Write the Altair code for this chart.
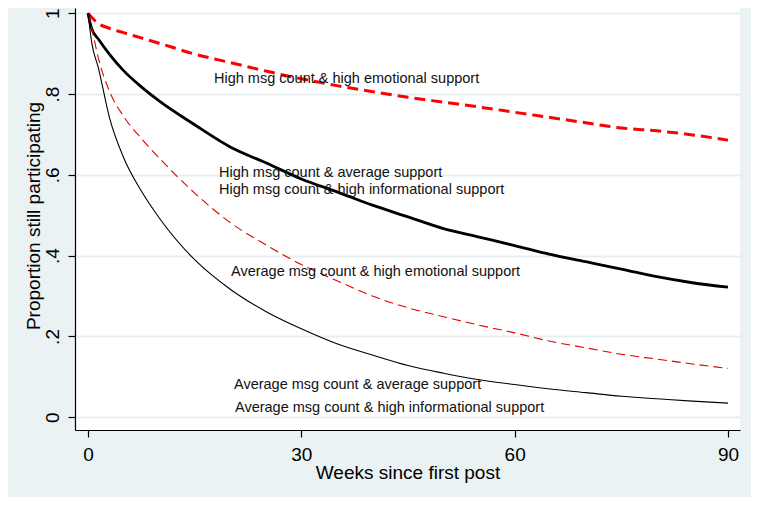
import altair as alt
import pandas as pd

# ---------------- data ----------------
WEEKS = [0, 0.5, 1.5, 3, 5, 7.5, 10, 15, 20, 25, 30, 35, 40, 45, 50, 55, 60, 65, 70, 75, 80, 85, 90]

SERIES = [
    "High msg count & high emotional support",
    "High msg count & average support",
    "Average msg count & high emotional support",
    "Average msg count & average support",
]

HIGH_MSG_HIGH_EMO = [1.0, 0.99, 0.974, 0.963, 0.952, 0.939, 0.926, 0.899, 0.878, 0.857, 0.838,
                     0.821, 0.806, 0.792, 0.780, 0.768, 0.755, 0.742, 0.729, 0.716, 0.709, 0.699, 0.686]
HIGH_MSG_AVG = [1.0, 0.963, 0.935, 0.899, 0.858, 0.818, 0.783, 0.724, 0.669, 0.630, 0.590,
                0.558, 0.525, 0.496, 0.467, 0.446, 0.425, 0.403, 0.385, 0.367, 0.348, 0.333, 0.322]
AVG_MSG_HIGH_EMO = [1.0, 0.965, 0.886, 0.808, 0.745, 0.690, 0.642, 0.555, 0.482, 0.427, 0.378,
                    0.338, 0.300, 0.271, 0.249, 0.228, 0.209, 0.188, 0.172, 0.156, 0.144, 0.132, 0.121]
AVG_MSG_AVG = [1.0, 0.93, 0.862, 0.743, 0.643, 0.560, 0.494, 0.390, 0.317, 0.262, 0.219,
               0.182, 0.154, 0.128, 0.109, 0.093, 0.081, 0.070, 0.061, 0.052, 0.046, 0.040, 0.035]

VALUES = [HIGH_MSG_HIGH_EMO, HIGH_MSG_AVG, AVG_MSG_HIGH_EMO, AVG_MSG_AVG]

LABEL_TEXT = [
    "High msg count & high emotional support",
    "High msg count & average support",
    "High msg count & high informational support",
    "Average msg count & high emotional support",
    "Average msg count & average support",
    "Average msg count & high informational support",
]
LABEL_WEEK = [17.72, 18.42, 18.42, 20.11, 20.53, 20.67]
LABEL_VALUE = [0.828, 0.594, 0.552, 0.3505, 0.0693, 0.0131]

X_TICKS = [0, 30, 60, 90]
Y_TICKS = [0, 0.2, 0.4, 0.6, 0.8, 1.0]
Y_TICK_LABELS = ["0", ".2", ".4", ".6", ".8", "1"]

# ---------------- styling ----------------
FONT = "Liberation Sans"
STYLES = {
    SERIES[0]: dict(color="#ff0000", strokeWidth=3, strokeDash=[11, 6]),
    SERIES[1]: dict(color="#000000", strokeWidth=2.8),
    SERIES[2]: dict(color="#e00000", strokeWidth=1.1, strokeDash=[9, 5]),
    SERIES[3]: dict(color="#000000", strokeWidth=1.1),
}

rows = []
for name, vals in zip(SERIES, VALUES):
    for w, v in zip(WEEKS, vals):
        rows.append({"series": name, "week": w, "value": v})
df = pd.DataFrame(rows)

labels_df = pd.DataFrame({"text": LABEL_TEXT, "week": LABEL_WEEK, "value": LABEL_VALUE})

label_expr = "".join(
    f"abs(datum.value - {v}) < 1e-6 ? '{l}' : " for v, l in zip(Y_TICKS, Y_TICK_LABELS)
) + "''"

x_enc = alt.X(
    "week:Q",
    scale=alt.Scale(domain=[-1.828, 91.69], nice=False, zero=False),
    axis=alt.Axis(
        values=X_TICKS, title="Weeks since first post", grid=False,
        labelFont=FONT, labelFontSize=19, labelColor="#000000", labelPadding=8,
        tickSize=7, tickColor="#000000", domainColor="#000000", domainWidth=1.2, tickWidth=1.2,
        titleFont=FONT, titleFontSize=19, titleFontWeight="normal", titleColor="#000000",
        titleBaseline="alphabetic", titleY=48, labelFlush=False,
    ),
)
y_enc = alt.Y(
    "value:Q",
    scale=alt.Scale(domain=[-0.0315, 1.0131], nice=False, zero=False),
    axis=alt.Axis(
        values=Y_TICKS, labelExpr=label_expr, title="Proportion still participating",
        grid=True, gridColor="#E6EFF0", gridWidth=2,
        labelFont=FONT, labelFontSize=19, labelColor="#000000",
        labelAngle=270, labelAlign="center", labelBaseline="alphabetic", labelPadding=10,
        tickSize=7, tickColor="#000000", domainColor="#000000", domainWidth=1.2, tickWidth=1.2,
        titleFont=FONT, titleFontSize=19, titleFontWeight="normal", titleColor="#000000",
        titleAngle=270, titleAlign="center", titleBaseline="alphabetic",
        titleX=-35.5, titleY=207.5, labelFlush=False,
    ),
)

layers = []
for name in SERIES:
    st = STYLES[name]
    layers.append(
        alt.Chart(df)
        .transform_filter(alt.datum.series == name)
        .mark_line(interpolate="monotone", **st)
        .encode(x=x_enc, y=y_enc)
    )

text_layer = (
    alt.Chart(labels_df)
    .mark_text(align="left", baseline="alphabetic", font=FONT, fontSize=14.5, color="#111111")
    .encode(x=x_enc, y=y_enc, text="text:N")
)

chart = (
    alt.layer(*layers, text_layer)
    .properties(
        width=665,
        height=422,
        autosize=alt.AutoSizeParams(type="none"),
        padding={"left": 67, "top": 0, "right": 11, "bottom": 67},
        background="#EAF2F3",
    )
    .configure_view(fill="white", strokeWidth=0)
)

chart.save("out.html", embed_options={"renderer": "svg", "actions": False})
